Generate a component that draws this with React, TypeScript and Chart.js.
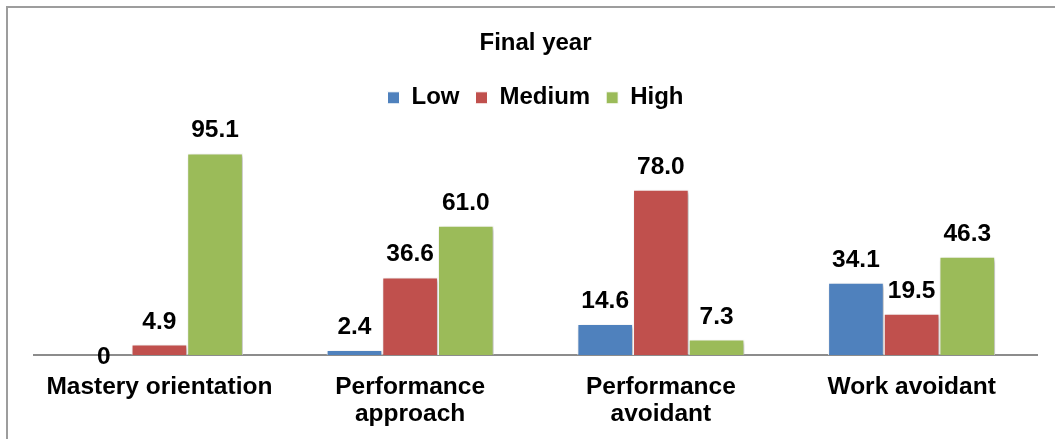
import React, { useEffect, useRef } from "react";
import { Chart, registerables } from "chart.js";

Chart.register(...registerables);

const chartTitle = "Final year";
const categories: (string | string[])[] = [
  "Mastery orientation",
  ["Performance", "approach"],
  ["Performance", "avoidant"],
  "Work avoidant",
];
const seriesNames = ["Low", "Medium", "High"];
const lowValues = [0, 2.4, 14.6, 34.1];
const mediumValues = [4.9, 36.6, 78.0, 19.5];
const highValues = [95.1, 61.0, 7.3, 46.3];
const seriesColors = ["#4F81BD", "#C0504D", "#9BBB59"];

const FAMILY = "'Liberation Sans', Arial, Helvetica, sans-serif";

const framePlugin = {
  id: "frame",
  beforeDraw(chart: any) {
    const ctx = chart.ctx;
    ctx.save();
    ctx.fillStyle = "#ffffff";
    ctx.fillRect(0, 0, chart.width, chart.height);
    ctx.strokeStyle = "#9d9d9d";
    ctx.lineWidth = 2;
    ctx.beginPath();
    ctx.moveTo(7, chart.height + 2);
    ctx.lineTo(7, 7);
    ctx.lineTo(chart.width + 2, 7);
    ctx.stroke();
    ctx.restore();
  },
};

const legendSpacingPlugin = {
  id: "legendSpacing",
  beforeInit(chart: any) {
    const legend = chart.legend;
    if (!legend) return;
    const orig = legend.fit;
    legend.fit = function () {
      orig.call(this);
      this.height = 73.2;
    };
  },
};

const barDecorPlugin = {
  id: "barDecor",
  beforeDatasetsDraw(chart: any) {
    const ctx = chart.ctx;
    ctx.save();
    ctx.shadowColor = "rgba(0,0,0,0.28)";
    ctx.shadowBlur = 4;
    ctx.shadowOffsetX = 2;
    ctx.shadowOffsetY = 2;
  },
  afterDatasetsDraw(chart: any) {
    const ctx = chart.ctx;
    ctx.restore();
    ctx.save();
    ctx.font = `bold 24.5px ${FAMILY}`;
    ctx.fillStyle = "#000000";
    ctx.textAlign = "center";
    chart.data.datasets.forEach((ds: any, di: number) => {
      const meta = chart.getDatasetMeta(di);
      meta.data.forEach((el: any, i: number) => {
        const v = ds.data[i] as number;
        const text = v === 0 ? "0" : v.toFixed(1);
        if (v === 0) {
          ctx.textBaseline = "middle";
          ctx.fillText(text, el.x, el.y + 2);
        } else {
          ctx.textBaseline = "alphabetic";
          ctx.fillText(text, el.x, el.y - 16);
        }
      });
    });
    ctx.restore();
  },
};

export default function App() {
  const canvasRef = useRef<HTMLCanvasElement | null>(null);

  useEffect(() => {
    if (!canvasRef.current) return;
    const seriesValues = [lowValues, mediumValues, highValues];
    const chart = new Chart(canvasRef.current, {
      type: "bar",
      data: {
        labels: categories,
        datasets: seriesNames.map((name, i) => ({
          label: name,
          data: seriesValues[i],
          backgroundColor: seriesColors[i],
          borderColor: "#ffffff",
          borderWidth: 1,
          categoryPercentage: 0.666,
          barPercentage: 1.0,
          clip: false as any,
        })),
      },
      options: {
        responsive: false,
        animation: false,
        events: [],
        layout: { padding: { left: 34, right: 37, top: 0, bottom: 0 } },
        plugins: {
          title: {
            display: true,
            text: chartTitle,
            color: "#000000",
            font: { family: FAMILY, size: 24, weight: "bold", lineHeight: 1.2 },
            padding: { top: 29, bottom: 12 },
          },
          legend: {
            display: true,
            position: "top",
            labels: {
              color: "#000000",
              font: { family: FAMILY, size: 24, weight: "bold" },
              boxWidth: 12,
              boxHeight: 12,
              padding: 16,
            },
          },
          tooltip: { enabled: false },
        },
        scales: {
          x: {
            grid: { display: false, drawTicks: false },
            border: { display: true, color: "#8c8c8c", width: 2 },
            ticks: {
              color: "#000000",
              font: { family: FAMILY, size: 24.5, weight: "bold", lineHeight: 1.12 },
              padding: 18.5,
              maxRotation: 0,
              autoSkip: false,
            },
            afterFit: (scale: any) => {
              scale.height = 84;
            },
          },
          y: { display: false, min: 0, max: 100 },
        },
      },
      plugins: [framePlugin, legendSpacingPlugin, barDecorPlugin],
    });
    return () => chart.destroy();
  }, []);

  return (
    <div
      style={{
        position: "fixed",
        left: 0,
        top: 0,
        width: 1055,
        height: 439,
        overflow: "hidden",
        background: "#ffffff",
      }}
    >
      <canvas ref={canvasRef} width={1074} height={439} style={{ display: "block" }} />
    </div>
  );
}
